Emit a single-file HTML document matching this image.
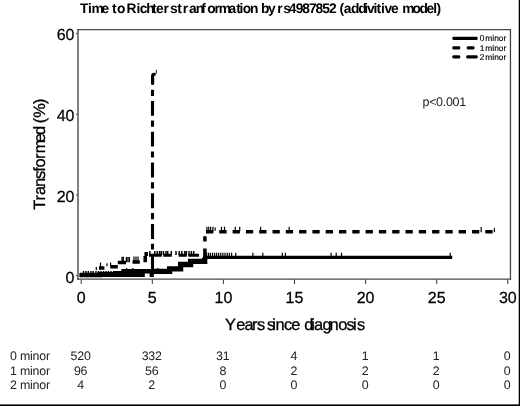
<!DOCTYPE html>
<html><head><meta charset="utf-8"><title>Time to Richters tranformation</title>
<style>html,body{margin:0;padding:0;background:#fff}body{width:520px;height:406px;overflow:hidden}svg{display:block}text{font-family:"Liberation Sans",Arial,sans-serif;text-rendering:geometricPrecision}</style>
</head><body>
<svg width="520" height="406" viewBox="0 0 520 406">
<rect x="0" y="0" width="520" height="406" fill="#fff"/>
<rect x="518.7" y="0" width="1.3" height="406" fill="#000"/>
<rect x="0" y="404.4" width="520" height="1.6" fill="#000"/>
<g font-size="13.8" font-weight="bold" fill="#000">
<text x="80.1 88.1 91.55 101.6 108.5 112.0 117.05 124.5 126.5 136.6 139.7 146.3 152.0 156.0 163.6 170.1 176.8 177.3 182.7 189.0 195.8 201.3 207.15 214.5 218.85 228.4 236.2 239.6 242.75 250.1 257.5 260.9 267.9 274.5 277.3 283.15 288.7 295.7 302.3 308.9 315.45 322.3 329.05 336 339.4 343.7 350.9 358.2 364.2 367.1 373.4 376.6 380.9 384.4 391.1 398.5 402.2 412.55 419.5 426.5 433.3 436.4" y="13">Time to Richters tranformation by rs4987852 (addivitive model)</text>
</g>
<g fill="none" stroke="#555" stroke-width="1.6">
<path d="M78,279.8 V29.1" stroke="#727272" stroke-width="1.8"/>
<path d="M510.45,29.1 V279.8" stroke="#444" stroke-width="1.3"/>
<path d="M77.1,29.7 H511.1 M77.1,279.2 H511.1" stroke="#4a4a4a" stroke-width="1.3"/>
</g>
<g stroke="#333" stroke-width="1">
<line x1="76" y1="275.5" x2="77.4" y2="275.5"/>
<line x1="76" y1="194.9" x2="77.4" y2="194.9"/>
<line x1="76" y1="114.3" x2="77.4" y2="114.3"/>
<line x1="76" y1="33.7" x2="77.4" y2="33.7"/>
<line x1="81.2" y1="279.6" x2="81.2" y2="283.9"/>
<line x1="152.3" y1="279.6" x2="152.3" y2="283.9"/>
<line x1="223.4" y1="279.6" x2="223.4" y2="283.9"/>
<line x1="294.5" y1="279.6" x2="294.5" y2="283.9"/>
<line x1="365.6" y1="279.6" x2="365.6" y2="283.9"/>
<line x1="436.7" y1="279.6" x2="436.7" y2="283.9"/>
<line x1="507.8" y1="279.6" x2="507.8" y2="283.9"/>
</g>
<g font-size="16" fill="#000" stroke="#000" stroke-width="0.25">
<text x="74.3" y="282.7" text-anchor="end" textLength="8.8" lengthAdjust="spacing">0</text>
<text x="74.3" y="201.5" text-anchor="end" textLength="17.5" lengthAdjust="spacing">20</text>
<text x="74.3" y="120.9" text-anchor="end" textLength="17.5" lengthAdjust="spacing">40</text>
<text x="74.3" y="40.3" text-anchor="end" textLength="17.5" lengthAdjust="spacing">60</text>
<text x="81.2" y="302.9" text-anchor="middle">0</text>
<text x="152.3" y="302.9" text-anchor="middle">5</text>
<text x="223.4" y="302.9" text-anchor="middle">10</text>
<text x="294.5" y="302.9" text-anchor="middle">15</text>
<text x="365.6" y="302.9" text-anchor="middle">20</text>
<text x="436.7" y="302.9" text-anchor="middle">25</text>
<text x="507.8" y="302.9" text-anchor="middle">30</text>
</g>
<text x="225.1 236.35 244.4 251.9 257.0 264.5 267.0 272.2 275.4 284.0 291.35 299.5 304.3 311.2 313.9 322.4 329.4 338.2 346.6 352.9 357.0" y="330" font-size="16.4" fill="#000" stroke="#000" stroke-width="0.3">Years since diagnosis</text>
<text transform="translate(45.1,209.85) rotate(-90)" x="0.2 9.45 14.85 22.75 30.95 38.0 42.45 50.95 56.6 67.3 74.9 83 86.6 92.0 105.95" y="0" font-size="16.4" fill="#000" stroke="#000" stroke-width="0.3">Transformed (%)</text>
<text x="422.5" y="105.9" font-size="12.5" fill="#222" textLength="43.6" lengthAdjust="spacing">p&lt;0.001</text>
<g fill="#000">
<rect x="452.4" y="36.65" width="25.2" height="3.3" rx="1.2"/>
<rect x="452.4" y="46.15" width="7.8" height="3.3" rx="1.2"/>
<rect x="466.8" y="46.15" width="7.6" height="3.3" rx="1.2"/>
<rect x="452.4" y="55.15" width="7.8" height="3.3" rx="1.2"/>
<rect x="466.3" y="55.15" width="11.3" height="3.3" rx="1.2"/>
</g>
<g font-size="8.4" fill="#000" stroke="#000" stroke-width="0.15">
<text x="479.8" y="41.3">0</text>
<text x="485.3" y="41.3" textLength="21" lengthAdjust="spacing">minor</text>
<text x="479.8" y="51.0">1</text>
<text x="485.3" y="51.0" textLength="21" lengthAdjust="spacing">minor</text>
<text x="479.8" y="60.4">2</text>
<text x="485.3" y="60.4" textLength="21" lengthAdjust="spacing">minor</text>
</g>
<path d="M80,275.0 L100,275.0 L100,274.2 L116,274.2 L116,273.2 L123.6,273.2 L123.6,271.2 L154,271.2" fill="none" stroke="#000" stroke-width="4.5" stroke-linejoin="miter"/>
<path d="M152,271.3 L169.6,271.3 L169.6,268.9 L180.6,268.9 L180.6,264.5 L190.6,264.5 L190.6,261.4 L204.7,261.4 L204.7,257.5" fill="none" stroke="#000" stroke-width="5.3" stroke-linejoin="miter"/>
<path d="M203,257.4 H452.2" fill="none" stroke="#000" stroke-width="3.4"/>
<path d="M79.4,275.05 H144.8 M149.6,275.05 H153.8" fill="none" stroke="#000" stroke-width="4.1"/>
<path d="M152.5,274 V254.8 M152.5,249.5 V243.7 M152.5,239.0 V224.1 M152.5,219.2 V213.0 M152.5,208.2 V193.3 M152.5,188.4 V182.2 M152.5,177.4 V162.5 M152.5,157.6 V151.4 M152.5,146.6 V131.7 M152.5,126.8 V120.6 M152.5,115.8 V100.9 M152.5,96.0 V89.8" fill="none" stroke="#000" stroke-width="3.1"/>
<path d="M152.6,83.5 V76.2 Q152.6,74.5 154.3,74.3" fill="none" stroke="#000" stroke-width="3.2" stroke-linecap="round"/>
<path d="M156.3,73.8 V69.9" fill="none" stroke="#222" stroke-width="1"/>
<path d="M149,255.2 H161.8 M163.3,255.2 H171.8 M178.7,255.2 H186.8 M188.3,255.2 H199" fill="none" stroke="#000" stroke-width="3"/>
<path d="M99,267.9 H104.4 M110.2,266.8 H117.8 M117.8,262.4 H126 M132.5,262.0 H139.8 M145.2,262.3 V256 M146.2,256 V252 M204.9,259.6 V248.5 M204.9,241.6 V236.2 M206.0,231.7 H213.3 M219.3,231.7 H226.6 M232.6,231.7 H239.9 M245.9,231.7 H253.2 M259.2,231.7 H266.5 M272.5,231.7 H279.8 M285.8,231.7 H293.1 M299.1,231.7 H306.4 M312.4,231.7 H319.7 M325.7,231.7 H333.0 M339.0,231.7 H346.3 M352.3,231.7 H359.6 M365.6,231.7 H372.9 M378.9,231.7 H386.2 M392.2,231.7 H399.5 M405.5,231.7 H412.8 M418.8,231.7 H426.1 M432.1,231.7 H439.4 M445.4,231.7 H452.7 M458.7,231.7 H466.0 M472.0,231.7 H479.3 M485.3,231.7 H492.6" fill="none" stroke="#000" stroke-width="3.5"/>
<path d="M126.6,270 V268 M132.8,270 V268 M157.8,270 V268 M206.7,257 V252.8 M208.6,257 V252.8 M210.5,257 V252.8 M212.6,257 V252.8 M214.7,257 V252.8 M216.6,257 V252.8 M218.7,257 V252.8 M220.8,257 V252.8 M222.9,257 V252.8 M225,257 V252.8 M227.2,257 V252.8 M229.3,257 V252.8 M231.6,257 V252.8 M235.7,257 V252.8 M252.9,257 V252.8 M262.8,257 V252.8 M282.3,257 V252.8 M285.4,257 V252.8 M331.1,257 V252.8 M336.2,257 V252.8 M341.5,257 V252.8 M450.2,257 V252.8 M96.3,270 V267 M100.5,267 V262.5 M107,266.3 V263.2 M110.6,266 V262.5 M122,261 V256.7 M123.4,261 V256.7 M126.4,262.3 V257 M127.9,262.3 V257 M129.4,262.3 V257 M134,261 V256.5 M136,261 V256.5 M138,261 V256.5 M206.9,231.5 V226.8 M208.7,231.5 V226.8 M210.6,231.5 V226.8 M212.9,231.5 V226.8 M221.5,231.5 V226.8 M224.5,231.5 V226.8 M235.3,231.5 V226.8 M239.7,231.5 V226.8 M260.6,231.5 V226.8 M289.2,231.5 V226.8 M215.1,230.8 V227.4 M481.2,232.3 V227.1 M494.4,232.3 V228.3" fill="none" stroke="#000" stroke-width="1.2"/>
<path d="M83.5,274 V270.9 M86,274 V270.9 M88.3,274 V270.9 M91,274 V270.9 M93.2,274 V270.9 M96,274 V270.9 M98.5,274 V270.9 M101,274 V270.9 M103.6,274 V270.9 M106,274 V270.9 M108.5,274 V270.9 M111,274 V270.9 M113.6,274 V270.9 M116,274 V270.9 M118.4,274 V270.9 M120.5,274 V270.9 M149.9,255 V251 M154.8,255 V251 M157.2,255 V251 M159.5,255 V251 M161.3,255 V251 M163.4,255 V251 M166,255 V251 M167.7,255 V251 M171.3,255 V251 M176,255 V251 M179.2,255 V251 M181.8,255 V251 M184.8,255 V251 M186.4,255 V251 M189,255 V251 M191.4,255 V251 M193.7,255 V251" fill="none" stroke="#000" stroke-width="1.45"/>
<g font-size="12.4" fill="#222" letter-spacing="-0.2">
<text x="10" y="360">0 minor</text>
<text x="80.6" y="360" text-anchor="middle">520</text>
<text x="151.7" y="360" text-anchor="middle">332</text>
<text x="222.8" y="360" text-anchor="middle">31</text>
<text x="293.9" y="360" text-anchor="middle">4</text>
<text x="365.0" y="360" text-anchor="middle">1</text>
<text x="436.1" y="360" text-anchor="middle">1</text>
<text x="507.2" y="360" text-anchor="middle">0</text>
<text x="10" y="374.5">1 minor</text>
<text x="80.6" y="374.5" text-anchor="middle">96</text>
<text x="151.7" y="374.5" text-anchor="middle">56</text>
<text x="222.8" y="374.5" text-anchor="middle">8</text>
<text x="293.9" y="374.5" text-anchor="middle">2</text>
<text x="365.0" y="374.5" text-anchor="middle">2</text>
<text x="436.1" y="374.5" text-anchor="middle">2</text>
<text x="507.2" y="374.5" text-anchor="middle">0</text>
<text x="10" y="389">2 minor</text>
<text x="80.6" y="389" text-anchor="middle">4</text>
<text x="151.7" y="389" text-anchor="middle">2</text>
<text x="222.8" y="389" text-anchor="middle">0</text>
<text x="293.9" y="389" text-anchor="middle">0</text>
<text x="365.0" y="389" text-anchor="middle">0</text>
<text x="436.1" y="389" text-anchor="middle">0</text>
<text x="507.2" y="389" text-anchor="middle">0</text>
</g>
</svg></body></html>
